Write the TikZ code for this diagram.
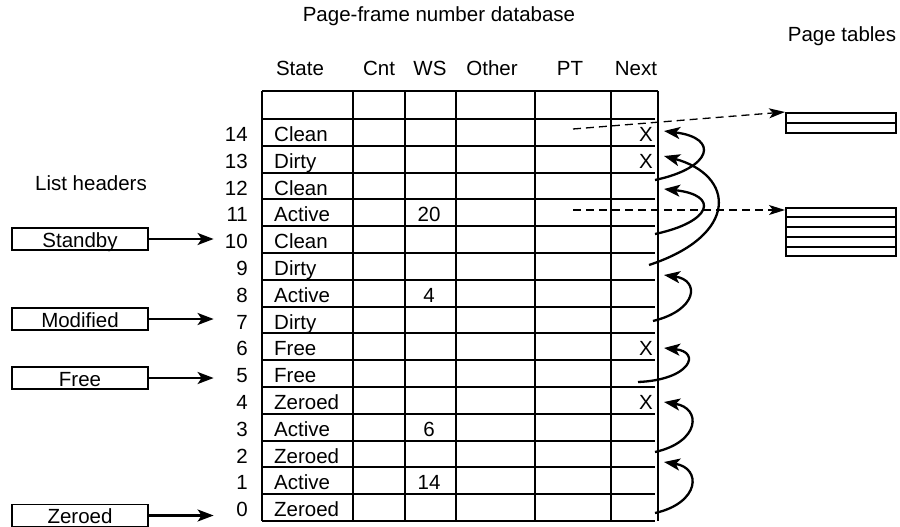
\documentclass[tikz,border=0pt]{standalone}
\usepackage{fontspec}
\setmainfont{Liberation Sans}
\usetikzlibrary{arrows.meta,calc,positioning}

\begin{document}
\begin{tikzpicture}[x=1pt,y=-1pt,
  font=\fontsize{20.5}{24}\selectfont,
  tbl/.style={line width=2pt},
  listbox/.style={draw,line width=1.8pt,minimum width=136pt,inner xsep=0pt,inner ysep=2pt,text height=17pt,text depth=1pt},
  nextptr/.style={line width=2.3pt,-{Stealth[length=16pt,width=12pt,inset=4pt]}},
  ptptr/.style={line width=1.3pt,dash pattern=on 8pt off 5pt,-{Stealth[length=16pt,width=10pt,inset=4pt]}},
  rownum/.style={anchor=base east,inner sep=0pt,text width=34pt,align=right}]
  \useasboundingbox (0,0) rectangle (900,527);

  \node[anchor=base] (title) at (439,22) {Page-frame number database};
  \node[anchor=base] (pttitle) at (842,42) {Page tables};
  \node[anchor=base] (lhtitle) at (91,190) {List headers};

  \foreach \t/\x in {State/300,Cnt/379,WS/430,Other/492,PT/570,Next/636}
    \node[anchor=base] (h\t) at (\x,75) {\t};

  \draw[tbl] (262,91) -- (657.5,91);
  \foreach \x in {262,353,405,456,535,611,657.5}
    \draw[tbl] (\x,91) -- (\x,521);
  \foreach \i in {0,...,15}
    \draw[tbl] (262,{119+26.8*\i}) -- (654.5,{119+26.8*\i});

  \foreach \n/\s/\w/\m in {14/Clean//X,13/Dirty//X,12/Clean//,11/Active/20/,10/Clean//,
      9/Dirty//,8/Active/4/,7/Dirty//,6/Free//X,5/Free//,4/Zeroed//X,3/Active/6/,
      2/Zeroed//,1/Active/14/,0/Zeroed//}{
    \pgfmathsetmacro\yb{119+26.8*(14-\n)+22.5}
    \node[rownum] (n\n) at (248,\yb) {\n};
    \node[anchor=base west,inner sep=0pt] (s\n) at (274,\yb) {\s};
    \node[anchor=base,inner sep=0pt] (w\n) at (429,\yb) {\w};
    \node[anchor=base east,inner sep=0pt] (x\n) at (653,\yb) {\m};
  }

  \node[listbox] (standby) at (80,239) {Standby};
  \node[listbox] (modified) at (80,319) {Modified};
  \node[listbox] (free) at (80,378) {Free};
  \node[listbox] (zeroed) at (80,515.5) {Zeroed};
  \draw[nextptr] (standby.east) -- (standby.east -| n10.west);
  \draw[nextptr] (modified.east) -- (modified.east -| n7.west);
  \draw[nextptr] (free.east) -- (free.east -| n5.west);
  \draw[nextptr] (zeroed.east) -- (zeroed.east -| n0.west);

  \node[draw,line width=1.8pt,minimum width=110pt,minimum height=20pt,anchor=north west,inner sep=0pt] (pt1) at (785,112) {};
  \draw[line width=1.6pt] (pt1.west) -- (pt1.east);
  \node[draw,line width=1.8pt,minimum width=110pt,minimum height=48pt,anchor=north west,inner sep=0pt] (pt2) at (785,207) {};
  \foreach \f in {0.2,0.4,0.6,0.8}
    \draw[line width=1.6pt] ($(pt2.north west)!\f!(pt2.south west)$) -- ($(pt2.north east)!\f!(pt2.south east)$);

  \coordinate (pt14) at (573,129);
  \coordinate (pt11) at (573,210);
  \draw[ptptr] (pt14) -- (pt1.north west);
  \draw[ptptr] (pt11) -- (pt11 -| pt2.west);

  \coordinate (from10) at (655,234);
  \coordinate (to12) at (664,189);
  \coordinate (from12) at (655,180);
  \coordinate (to14) at (664,131);
  \coordinate (from9) at (649,265);
  \coordinate (to13) at (664,156);
  \coordinate (from7) at (653,321);
  \coordinate (to9) at (664,275);
  \coordinate (from5) at (638,382);
  \coordinate (to6) at (664,348);
  \coordinate (from2) at (655,452);
  \coordinate (to4) at (664,402);
  \coordinate (from0) at (655,513);
  \coordinate (to2) at (664,462);
  \draw[nextptr] (from10) .. controls (712,222) and (720,195) .. (to12);
  \draw[nextptr] (from12) .. controls (712,168) and (720,138) .. (to14);
  \draw[nextptr] (from9) .. controls (740,235) and (735,175) .. (to13);
  \draw[nextptr] (from7) .. controls (698,310) and (700,280) .. (to9);
  \draw[nextptr] (from5) .. controls (690,380) and (702,352) .. (to6);
  \draw[nextptr] (from2) .. controls (700,442) and (702,408) .. (to4);
  \draw[nextptr] (from0) .. controls (700,503) and (702,468) .. (to2);
\end{tikzpicture}
\end{document}
